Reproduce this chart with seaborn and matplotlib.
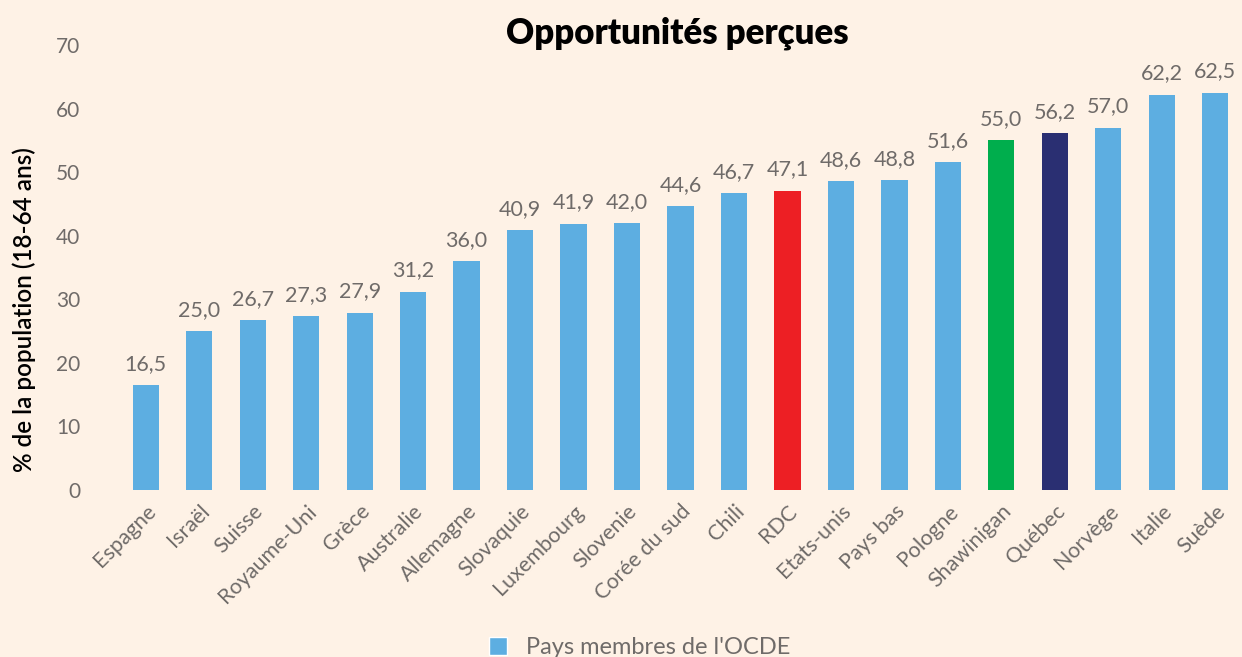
import matplotlib
matplotlib.use("Agg")
import matplotlib.pyplot as plt
from matplotlib.patches import Patch
import pandas as pd
import seaborn as sns

pays = ["Espagne", "Israël", "Suisse", "Royaume-Uni", "Grèce", "Australie",
        "Allemagne", "Slovaquie", "Luxembourg", "Slovenie", "Corée du sud",
        "Chili", "RDC", "Etats-unis", "Pays bas", "Pologne", "Shawinigan",
        "Québec", "Norvège", "Italie", "Suède"]
valeurs = [16.5, 25.0, 26.7, 27.3, 27.9, 31.2, 36.0, 40.9, 41.9, 42.0, 44.6,
           46.7, 47.1, 48.6, 48.8, 51.6, 55.0, 56.2, 57.0, 62.2, 62.5]

BLEU = "#5DAEE1"
speciaux = {"RDC": "#ED1F24", "Shawinigan": "#00AE4D", "Québec": "#2A2F72"}
palette = {p: speciaux.get(p, BLEU) for p in pays}

BG = "#FEF2E6"
GRIS = "#6F6B69"

sns.set_theme(style="white")
plt.rcParams["font.family"] = ["Lato", "DejaVu Sans"]

df = pd.DataFrame({"pays": pays, "valeur": valeurs})

fig = plt.figure(figsize=(12.42, 6.57), dpi=100, facecolor=BG)
ax = fig.add_axes([0.0958, 0.2542, 0.9042, 0.6773])
ax.set_facecolor(BG)

sns.barplot(data=df, x="pays", y="valeur", hue="pays", palette=palette,
            width=0.49, legend=False, saturation=1, linewidth=0, ax=ax)

for c in ax.containers:
    ax.bar_label(c, labels=[f"{v:.1f}".replace(".", ",") for v in c.datavalues],
                 padding=8, fontsize=15.5, color=GRIS)

ax.set_xlim(-0.5, len(pays) - 0.5)
ax.set_ylim(0, 70)
ax.set_yticks(range(0, 71, 10))
ax.tick_params(axis="y", labelsize=15, labelcolor=GRIS, length=0, pad=28)
ax.tick_params(axis="x", labelsize=15.5, labelcolor=GRIS, length=0, pad=8)
for lbl in ax.get_xticklabels():
    lbl.set_rotation(45)
    lbl.set_ha("right")
    lbl.set_rotation_mode("anchor")

ax.set_xlabel("")
ax.set_ylabel("% de la population (18-64 ans)", fontsize=17.5, color="black",
              fontweight="semibold")
ax.yaxis.set_label_coords(-0.074, 0.405)
sns.despine(ax=ax, left=True, bottom=True)

fig.suptitle("Opportunités perçues", x=0.545, y=0.975, fontsize=25,
             fontweight="heavy", color="black")

fig.legend(handles=[Patch(facecolor=BLEU, label="Pays membres de l'OCDE")],
           loc="center", bbox_to_anchor=(0.515, 0.015), frameon=False,
           labelcolor=GRIS, handlelength=0.8, handleheight=0.8,
           prop={"size": 17})

fig.savefig("out.png", dpi=100, facecolor=BG)
